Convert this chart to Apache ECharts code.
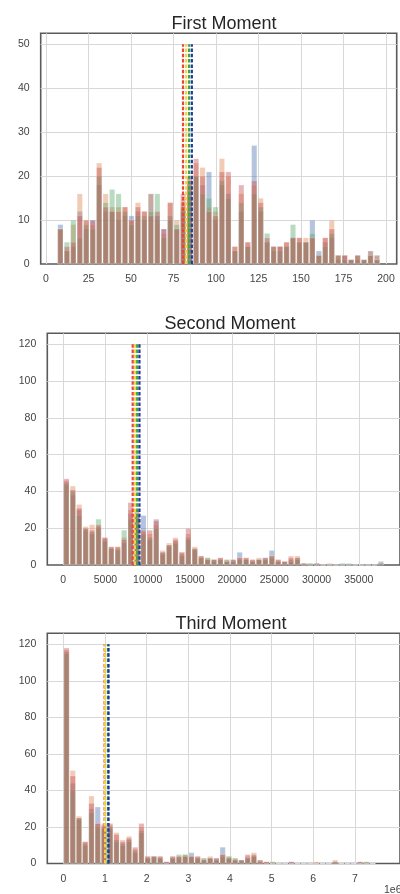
<!DOCTYPE html>
<html><head><meta charset="utf-8">
<script src="https://cdn.jsdelivr.net/npm/echarts@6/dist/echarts.min.js"></script>
<style>html,body{margin:0;padding:0;background:#fff}#c{width:400px;height:894px}</style>
</head><body><div id="c"></div>
<script>
// ---------- data ----------
const titles = ['First Moment', 'Second Moment', 'Third Moment'];
const seriesNames = ['blue', 'orange', 'green', 'red'];
const meanNames = ['red mean', 'yellow mean', 'green mean', 'blue mean'];

// Panel 1 : First Moment
const bins1 = [8.5,12.3,16.1,19.9,23.7,27.5,31.3,35.1,38.9,42.7,46.5,50.3,54.1,57.9,61.7,65.5,69.3,73.1,76.9,80.7,84.5,88.3,92.1,95.9,99.7,103.5,107.3,111.1,114.9,118.7,122.5,126.3,130.1,133.9,137.7,141.5,145.3,149.1,152.9,156.7,160.5,164.3,168.1,171.9,175.7,179.5,183.3,187.1,190.9,194.7];
const blue1   = [9,3,4,12,8,10,18,12,12,10,11,11,12,10,16,11,8,10,8,12,16,20,18,21,10,18,16,3,12,4,27,12,5,3,4,4,6,5,5,10,3,5,6,1,2,1,1,1,3,2];
const orange1 = [8,3,9,16,10,9,23,16,13,13,13,10,14,12,16,10,7,14,10,14,19,23,22,13,12,24,20,4,16,5,18,15,5,4,4,5,6,6,6,6,2,6,10,2,2,1,2,1,3,2];
const green1  = [8,5,10,6,9,8,20,14,17,16,12,9,11,11,12,16,6,11,9,13,18,20,16,15,13,19,15,3,14,4,16,13,7,4,3,4,9,5,5,7,2,4,7,2,1,1,2,1,2,1];
const red1    = [8,4,5,11,10,10,22,13,12,12,13,10,13,12,11,12,8,14,8,16,20,24,20,12,11,21,21,4,18,5,19,14,6,4,4,5,6,6,5,6,2,6,8,2,2,1,2,1,2,1];
const means1 = [80.6, 82.5, 84.2, 85.8];
const meanTop1 = 50;
const xTicks1 = [0,25,50,75,100,125,150,175,200];
const yTicks1 = [0,10,20,30,40,50];

// Panel 2 : Second Moment
const bins2 = [380,1140,1900,2660,3420,4180,4940,5700,6460,7220,7980,8740,9500,10260,11020,11780,12540,13300,14060,14820,15580,16340,17100,17860,18620,19380,20140,20900,21660,22420,23180,23940,24700,25460,26220,26980,27740,28500,29260,30020,30780,31540,32300,33060,33820,34580,35340,36100,36860,37620];
const blue2   = [45,38,30,20,18,20,14,9,8,12,28,26,27,15,24,7,10,13,6,15,8,4,3,3,3,2,3,7,3,2,3,4,8,2,2,3,4,1,0,1,0,0,0,1,0,0,0,0,0,2];
const orange2 = [46,43,33,21,22,21,15,10,10,15,30,28,18,17,22,8,12,15,7,17,10,5,4,2,4,3,2,4,4,3,4,3,5,3,2,5,5,1,1,0,0,1,0,0,0,0,0,0,0,1];
const green2  = [44,40,27,19,17,25,13,9,9,19,25,27,17,14,20,6,11,12,5,14,9,4,4,3,3,3,2,3,3,2,3,3,4,2,1,2,3,0,1,0,0,0,0,0,1,0,0,0,0,1];
const red2    = [47,41,31,20,19,22,15,10,10,14,34,30,19,19,25,7,11,14,7,20,9,5,3,3,4,2,3,4,4,3,3,4,5,3,2,4,4,1,0,1,0,0,0,0,0,0,0,0,0,1];
const means2 = [8230, 8520, 8760, 9030];
const meanTop2 = 120;
const xTicks2 = [0,5000,10000,15000,20000,25000,30000,35000];
const yTicks2 = [0,20,40,60,80,100,120];

// Panel 3 : Third Moment
const bins3 = [75000,225000,375000,525000,675000,825000,975000,1125000,1275000,1425000,1575000,1725000,1875000,2025000,2175000,2325000,2475000,2625000,2775000,2925000,3075000,3225000,3375000,3525000,3675000,3825000,3975000,4125000,4275000,4425000,4575000,4725000,4875000,5025000,5175000,5325000,5475000,5625000,5775000,5925000,6075000,6225000,6375000,6525000,6675000,6825000,6975000,7125000,7275000,7425000];
const blue3   = [116,44,24,11,30,31,20,20,13,11,13,7,18,3,4,3,1,3,3,4,6,3,2,3,3,9,3,2,2,3,4,1,1,0,0,0,1,0,0,0,0,0,0,1,0,0,0,1,0,0];
const orange3 = [117,51,26,12,37,22,22,21,17,13,15,8,20,4,3,4,1,4,4,5,4,4,3,4,2,5,4,3,1,4,6,2,1,1,0,0,0,0,0,0,1,0,0,2,0,0,0,0,1,0];
const green3  = [115,40,25,10,28,20,19,19,12,10,12,6,17,3,4,3,0,3,5,5,4,3,3,3,2,4,4,3,2,3,4,1,0,1,0,0,0,0,0,0,0,0,0,1,0,0,0,0,1,0];
const red3    = [118,48,25,12,33,22,21,22,16,12,14,9,22,4,4,4,1,4,4,4,4,4,2,3,3,5,3,2,2,5,5,2,1,0,0,0,1,0,0,0,0,0,0,1,0,0,0,1,0,0];
const means3 = [990000, 1000000, 1070000, 1085000];
const meanTop3 = 120;
const xTicks3 = [0,1000000,2000000,3000000,4000000,5000000,6000000,7000000];
const yTicks3 = [0,20,40,60,80,100,120];

// ---------- styling / layout ----------
const barColors = ['#4C72B0', '#DD8452', '#55A868', '#C44E52'];
const meanColors = ['#e8453c', '#f0d43a', '#3fa34d', '#1f3c99'];
const FONT = 'Liberation Sans, Arial, sans-serif';

const panels = [
  {bins: bins1, vals: [blue1, orange1, green1, red1], means: means1, meanTop: meanTop1,
   xTicks: xTicks1, yTicks: yTicks1, xMin: -3.1, xMax: 206.3, yMax: 52.5,
   grid: {left: 40.7, top: 33.3, width: 356, height: 230.7}, titleX: 219, titleTop: 10,
   fmt: v => String(v)},
  {bins: bins2, vals: [blue2, orange2, green2, red2], means: means2, meanTop: meanTop2,
   xTicks: xTicks2, yTicks: yTicks2, xMin: -1882, xMax: 39882, yMax: 126,
   grid: {left: 47.3, top: 333.3, width: 355, height: 231.7}, titleX: 225, titleTop: 310,
   fmt: v => String(v)},
  {bins: bins3, vals: [blue3, orange3, green3, red3], means: means3, meanTop: meanTop3,
   xTicks: xTicks3, yTicks: yTicks3, xMin: -386000, xMax: 8083000, yMax: 126,
   grid: {left: 47.3, top: 633.3, width: 366.7, height: 230.2}, titleX: 226, titleTop: 610,
   fmt: v => String(Math.round(v / 1e6))}
];

const option = {
  animation: false,
  backgroundColor: '#fff',
  textStyle: {fontFamily: FONT},
  title: [], grid: [], xAxis: [], yAxis: [], series: [],
  graphic: [{type: 'text', left: 384, top: 885,
    style: {text: '1e6', fontSize: 10.5, fill: '#444', fontFamily: FONT}}]
};

panels.forEach((p, k) => {
  option.title.push({text: titles[k], left: p.titleX, top: p.titleTop, textAlign: 'center',
    textStyle: {fontSize: 18, fontWeight: 'normal', color: '#262626', fontFamily: FONT}});
  option.grid.push(Object.assign({show: true, borderColor: '#5a5a5a', borderWidth: 1.6,
    backgroundColor: '#fff', containLabel: false}, p.grid));
  option.xAxis.push({type: 'value', gridIndex: k, min: p.xMin, max: p.xMax,
    axisLine: {show: false}, axisTick: {show: false}, splitLine: {show: false},
    axisLabel: {customValues: p.xTicks, formatter: p.fmt, color: '#444', fontSize: 10.5,
      margin: 10, fontFamily: FONT}});
  option.yAxis.push({type: 'value', gridIndex: k, min: 0, max: p.yMax,
    axisLine: {show: false}, axisTick: {show: false}, splitLine: {show: false},
    axisLabel: {customValues: p.yTicks, color: '#444', fontSize: 10.5, margin: 11, fontFamily: FONT}});
  // gridlines
  option.series.push({type: 'line', name: 'grid' + k, xAxisIndex: k, yAxisIndex: k, data: [],
    silent: true,
    markLine: {silent: true, symbol: 'none', z: 1, animation: false, label: {show: false},
      lineStyle: {color: '#d8d8d8', width: 1, type: 'solid'},
      emphasis: {disabled: true},
      data: p.xTicks.map(v => ({xAxis: v})).concat(p.yTicks.filter(v => v > 0).map(v => ({yAxis: v})))}});
  // histogram bars
  p.vals.forEach((arr, j) => {
    option.series.push({type: 'bar', name: seriesNames[j], xAxisIndex: k, yAxisIndex: k,
      barWidth: 5.6, barGap: '-100%', z: 2,
      itemStyle: {color: barColors[j], opacity: 0.42, borderColor: '#fff', borderWidth: 0.4},
      data: p.bins.map((b, i) => [b, arr[i]])});
  });
  // mean lines
  p.means.forEach((m, j) => {
    option.series.push({type: 'line', name: meanNames[j], xAxisIndex: k, yAxisIndex: k, z: 5,
      symbol: 'none', silent: true,
      lineStyle: {color: meanColors[j], width: 2.2, type: [3.5, 1.8]},
      data: [[m, 0], [m, p.meanTop]]});
  });
});

const chart = echarts.init(document.getElementById('c'), null, {renderer: 'canvas'});
chart.setOption(option);
</script>
</body></html>
